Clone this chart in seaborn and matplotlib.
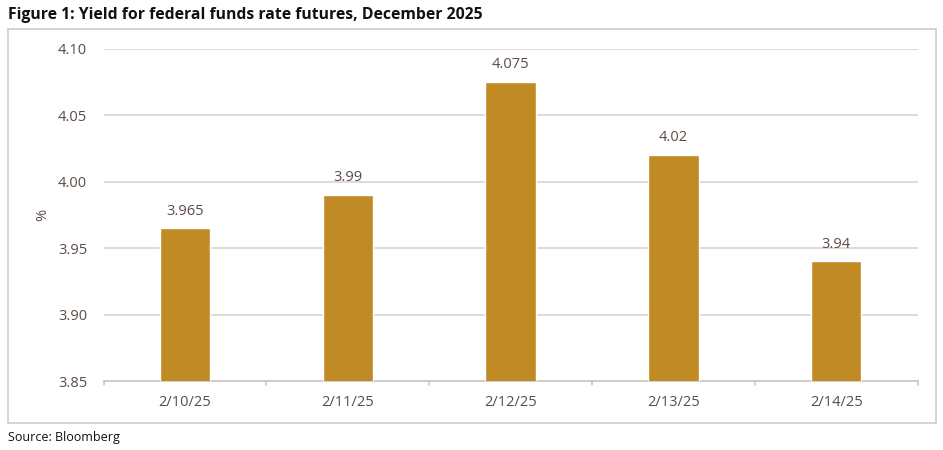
import matplotlib
matplotlib.use("Agg")
import matplotlib.pyplot as plt
import seaborn as sns
import pandas as pd
from matplotlib.patches import Rectangle

dates = ["2/10/25", "2/11/25", "2/12/25", "2/13/25", "2/14/25"]
yields = [3.965, 3.99, 4.075, 4.02, 3.94]
labels = ["3.965", "3.99", "4.075", "4.02", "3.94"]
yticks = [3.85, 3.90, 3.95, 4.00, 4.05, 4.10]

sns.set_theme(style="white")
plt.rcParams['font.family'] = ['Open Sans', 'DejaVu Sans']

df = pd.DataFrame({"date": dates, "yield": yields})

fig = plt.figure(figsize=(9.43, 4.5), dpi=100)
ax = fig.add_axes([0.110, 0.1533, 0.863, 0.738])

bar_color = "#C08A25"
text_color = "#5b4b45"
grid_color = "#ddd3ce"

sns.barplot(data=df, x="date", y="yield", color=bar_color, width=0.31,
            saturation=1, ax=ax, zorder=3)
ax.set_ylim(3.85, 4.10)
ax.set_yticks(yticks)
ax.set_yticklabels([f"{t:.2f}" for t in yticks], color=text_color, fontsize=10.5)
ax.set_xlim(-0.5, len(dates) - 0.5)
ax.tick_params(axis='x', colors=text_color, labelsize=10.5, length=0, pad=10)
ax.tick_params(axis='y', length=0, pad=12)
for lab in ax.get_xticklabels():
    lab.set_color(text_color)
ax.set_xlabel("")
ax.set_ylabel("%", color=text_color, fontsize=10.5)
ax.yaxis.set_label_coords(-0.066, 0.5)

ax.yaxis.grid(True, color=grid_color, linewidth=1.2, zorder=0)
for s in ["top", "right", "left"]:
    ax.spines[s].set_visible(False)
ax.spines["bottom"].set_color("#cfc6c1")
ax.spines["bottom"].set_linewidth(1.2)

# category boundary ticks
for b in range(len(dates) + 1):
    ax.plot([b - 0.5, b - 0.5], [3.85, 3.847], color="#cfc6c1", lw=1.2,
            clip_on=False, zorder=4)

for i, (v, l) in enumerate(zip(yields, labels)):
    ax.annotate(l, (i, v), xytext=(0, 7), textcoords="offset points",
                ha="center", va="bottom", color=text_color, fontsize=10.5)

# outer frame
fig.patches.append(Rectangle((8 / 943, 1 - 423 / 450), 928 / 943, 394 / 450,
                             transform=fig.transFigure, fill=False,
                             edgecolor="#d9cfc9", linewidth=1.3))

fig.text(8 / 943, 1 - 15 / 450, "Figure 1: Yield for federal funds rate futures, December 2025",
         fontsize=11.3, fontweight="bold", color="#111111", va="center", ha="left")
fig.text(8 / 943, 1 - 437 / 450, "Source: Bloomberg", fontsize=9, color="#111111",
         va="center", ha="left")

fig.savefig("out.png", dpi=100)
